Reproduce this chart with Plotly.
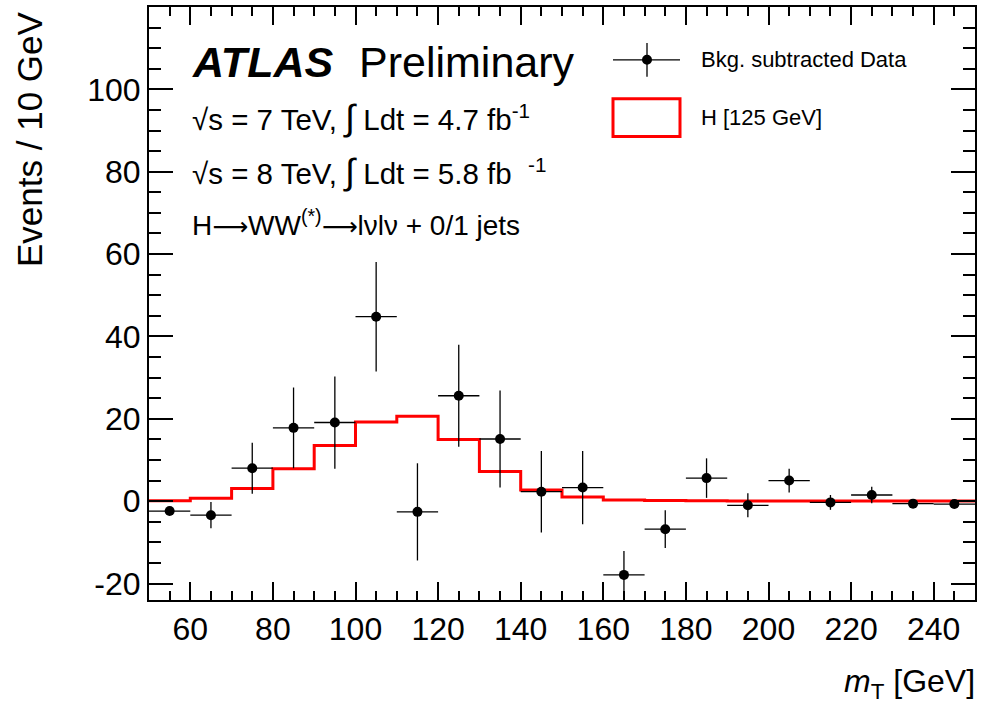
import plotly.graph_objects as go

# ---- data ----
bin_centers = [55, 65, 75, 85, 95, 105, 115, 125, 135, 145, 155, 165, 175, 185, 195, 205, 215, 225, 235, 245]
data_values = [-2.4, -3.4, 8.0, 17.8, 19.1, 44.8, -2.6, 25.6, 15.1, 2.3, 3.3, -17.9, -6.8, 5.6, -1.0, 5.0, -0.3, 1.5, -0.6, -0.7]
data_errors = [0.6, 3.2, 6.2, 9.8, 11.2, 13.3, 11.8, 12.4, 11.8, 9.9, 8.9, 5.8, 4.6, 4.8, 2.9, 2.9, 1.8, 2.0, 0.5, 0.5]
bin_half_width = [5] * 20

bin_edges = [50, 60, 70, 80, 90, 100, 110, 120, 130, 140, 150, 160, 170, 180, 190, 200, 210, 220, 230, 240, 250]
signal_values = [0.1, 0.7, 3.1, 7.9, 13.5, 19.2, 20.6, 15.0, 7.2, 2.7, 1.0, 0.3, 0.15, 0.1, 0.05, 0.05, 0.03, 0.02, 0.02, 0.02]

x_tick_vals = [60, 80, 100, 120, 140, 160, 180, 200, 220, 240]
x_tick_text = ["60", "80", "100", "120", "140", "160", "180", "200", "220", "240"]
y_tick_vals = [-20, 0, 20, 40, 60, 80, 100]
y_tick_text = ["-20", "0", "20", "40", "60", "80", "100"]

FONT = "Liberation Sans, Arial, Helvetica, sans-serif"
ARROW = "<span style='font-family:DejaVu Sans;font-size:25px'>⟶</span>"

# ---- geometry of the plotting frame in pixels ----
W, H = 983, 704
L, R, T, B = 149, 975, 5, 600


def px(x):
    return (x - L) / (R - L)


def py(y):
    return (B - y) / (B - T)


fig = go.Figure()

# signal histogram (step line)
fig.add_trace(go.Scatter(
    x=bin_edges,
    y=signal_values + [signal_values[-1]],
    mode="lines",
    line=dict(color="#ff0000", width=3, shape="hv"),
    showlegend=False,
    hoverinfo="skip",
))

# background subtracted data
fig.add_trace(go.Scatter(
    x=bin_centers,
    y=data_values,
    mode="markers",
    marker=dict(color="black", size=10),
    error_x=dict(type="data", array=bin_half_width, symmetric=True, width=0, thickness=1.3, color="black"),
    error_y=dict(type="data", array=data_errors, symmetric=True, width=0, thickness=1.3, color="black"),
    showlegend=False,
))

axis_common = dict(
    showline=True, linecolor="black", linewidth=2, mirror="ticks",
    ticks="inside", tickcolor="black", tickwidth=1.5,
    showgrid=False, zeroline=False,
    tickfont=dict(family=FONT, size=32, color="black"),
)

fig.update_xaxes(
    range=[50, 250], tickmode="array", tickvals=x_tick_vals, ticktext=x_tick_text,
    ticklen=18,
    minor=dict(ticks="inside", dtick=5, tick0=50, ticklen=9, tickcolor="black", tickwidth=1.5, showgrid=False),
    **axis_common,
)
fig.update_yaxes(
    range=[-24, 120], tickmode="array", tickvals=y_tick_vals, ticktext=y_tick_text,
    ticklen=24,
    minor=dict(ticks="inside", dtick=5, tick0=0, ticklen=12, tickcolor="black", tickwidth=1.5, showgrid=False),
    **axis_common,
)

ann = []
# axis titles
ann.append(dict(text="Events / 10 GeV", x=px(30), y=py(7), xref="paper", yref="paper",
                xanchor="center", yanchor="top", textangle=-90, showarrow=False,
                font=dict(family=FONT, size=35, color="black")))
ann.append(dict(text="<i>m</i><sub>T</sub> [GeV]", x=px(977), y=py(684), xref="paper", yref="paper",
                xanchor="right", yanchor="middle", showarrow=False,
                font=dict(family=FONT, size=32, color="black")))
# ATLAS label
ann.append(dict(text="<b><i>ATLAS</i></b>", x=px(190), y=py(60), xref="paper", yref="paper",
                xanchor="left", yanchor="middle", showarrow=False,
                font=dict(family=FONT, size=43, color="black")))
ann.append(dict(text="Preliminary", x=px(357), y=py(60), xref="paper", yref="paper",
                xanchor="left", yanchor="middle", showarrow=False,
                font=dict(family=FONT, size=43, color="black")))
ann.append(dict(text="√s = 7 TeV, <span style='font-size:36px'>∫</span> Ldt = 4.7 fb<sup>-1</sup>",
                x=px(190), y=py(116), xref="paper", yref="paper",
                xanchor="left", yanchor="middle", showarrow=False,
                font=dict(family=FONT, size=29.5, color="black")))
ann.append(dict(text="√s = 8 TeV, <span style='font-size:36px'>∫</span> Ldt = 5.8 fb  <sup>-1</sup>",
                x=px(190), y=py(170), xref="paper", yref="paper",
                xanchor="left", yanchor="middle", showarrow=False,
                font=dict(family=FONT, size=29.5, color="black")))
ann.append(dict(text="H" + ARROW + "WW<sup>(*)</sup>" + ARROW + "lνlν + 0/1 jets",
                x=px(190), y=py(222), xref="paper", yref="paper",
                xanchor="left", yanchor="middle", showarrow=False,
                font=dict(family=FONT, size=28, color="black")))
# legend texts
ann.append(dict(text="Bkg. subtracted Data", x=px(699), y=py(58), xref="paper", yref="paper",
                xanchor="left", yanchor="middle", showarrow=False,
                font=dict(family=FONT, size=22, color="black")))
ann.append(dict(text="H [125 GeV]", x=px(699), y=py(116), xref="paper", yref="paper",
                xanchor="left", yanchor="middle", showarrow=False,
                font=dict(family=FONT, size=22, color="black")))

shapes = [
    dict(type="line", xref="paper", yref="paper", x0=px(613), x1=px(680), y0=py(58), y1=py(58),
         line=dict(color="black", width=1.3)),
    dict(type="line", xref="paper", yref="paper", x0=px(647), x1=px(647), y0=py(41), y1=py(75),
         line=dict(color="black", width=1.3)),
    dict(type="circle", xref="paper", yref="paper", x0=px(642), x1=px(652), y0=py(53), y1=py(63),
         fillcolor="black", line=dict(color="black", width=0)),
    dict(type="rect", xref="paper", yref="paper", x0=px(613), x1=px(680), y0=py(97), y1=py(135),
         line=dict(color="#ff0000", width=3), fillcolor="rgba(0,0,0,0)"),
]

fig.update_layout(
    width=W, height=H,
    margin=dict(l=L, r=W - R, t=T, b=H - B, pad=0),
    paper_bgcolor="white", plot_bgcolor="white",
    annotations=ann, shapes=shapes,
    showlegend=False,
    font=dict(family=FONT, color="black"),
)

fig.write_html("out.html")
